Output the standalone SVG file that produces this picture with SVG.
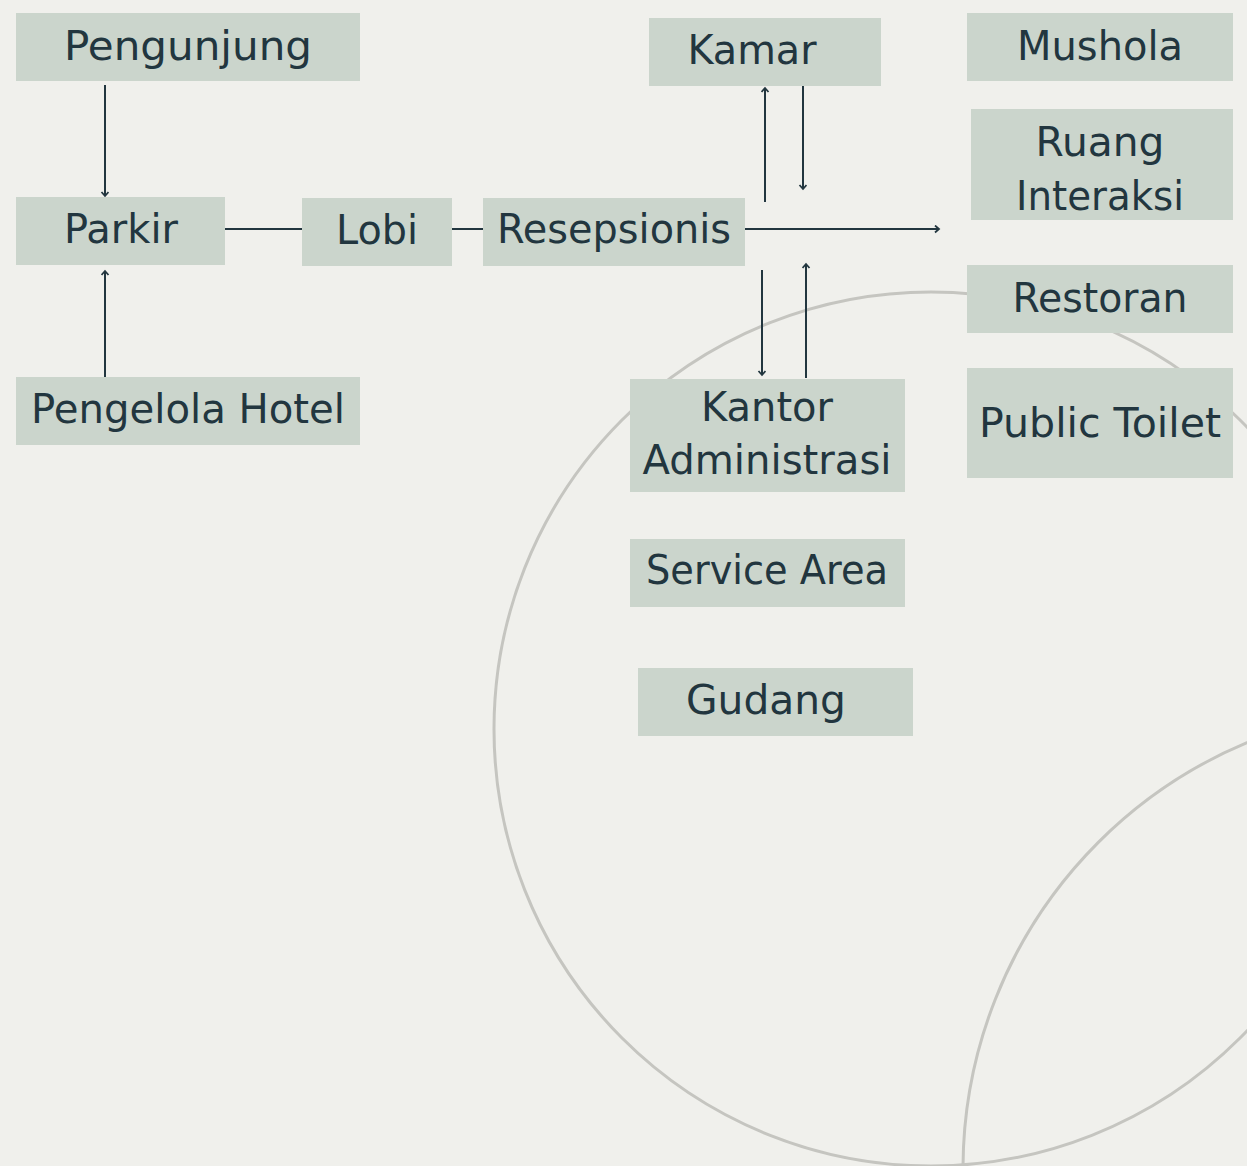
<svg xmlns="http://www.w3.org/2000/svg" width="1247" height="1166" viewBox="0 0 1247 1166">
<style>
.bg{fill:#f0f0ec}
.deco{fill:none;stroke:#c5c5c0;stroke-width:3}
.box{fill:#cbd5cc}
.lbl{font-family:"DejaVu Sans","Liberation Sans",sans-serif;font-size:41px;fill:#22363f;text-anchor:middle}
.edge{fill:none;stroke:#22363f;stroke-width:2}
</style>
<defs>
<marker id="ah" markerUnits="userSpaceOnUse" markerWidth="10" markerHeight="10" refX="5" refY="4" orient="auto">
<path d="M1,0.5 L5,4 L1,7.5" fill="none" stroke="#22363f" stroke-width="1.8"/>
</marker>
</defs>
<rect class="bg" x="0" y="0" width="1247" height="1166"/>
<g id="decor">
<circle class="deco" cx="931" cy="729" r="437"/>
<circle class="deco" cx="1425" cy="1169" r="462"/>
</g>
<g id="connectors">
<line class="edge" x1="105" y1="85" x2="105" y2="196" marker-end="url(#ah)"/>
<line class="edge" x1="105" y1="377" x2="105" y2="271" marker-end="url(#ah)"/>
<line class="edge" x1="225" y1="229" x2="302" y2="229"/>
<line class="edge" x1="452" y1="229" x2="483" y2="229"/>
<line class="edge" x1="745" y1="229" x2="939" y2="229" marker-end="url(#ah)"/>
<line class="edge" x1="765" y1="202" x2="765" y2="88" marker-end="url(#ah)"/>
<line class="edge" x1="803" y1="85" x2="803" y2="189" marker-end="url(#ah)"/>
<line class="edge" x1="762" y1="270" x2="762" y2="375" marker-end="url(#ah)"/>
<line class="edge" x1="806" y1="378" x2="806" y2="264" marker-end="url(#ah)"/>
</g>
<g id="pengunjung"><rect class="box" x="16" y="13" width="344" height="68"/><text class="lbl" x="188" y="60" textLength="248" lengthAdjust="spacingAndGlyphs">Pengunjung</text></g>
<g id="parkir"><rect class="box" x="16" y="197" width="209" height="68"/><text class="lbl" x="121" y="243" textLength="114" lengthAdjust="spacingAndGlyphs">Parkir</text></g>
<g id="lobi"><rect class="box" x="302" y="198" width="150" height="68"/><text class="lbl" x="377" y="244" textLength="82" lengthAdjust="spacingAndGlyphs">Lobi</text></g>
<g id="resepsionis"><rect class="box" x="483" y="198" width="262" height="68"/><text class="lbl" x="614" y="243" textLength="234" lengthAdjust="spacingAndGlyphs">Resepsionis</text></g>
<g id="kamar"><rect class="box" x="649" y="18" width="232" height="68"/><text class="lbl" x="752" y="64" textLength="129" lengthAdjust="spacingAndGlyphs">Kamar</text></g>
<g id="mushola"><rect class="box" x="967" y="13" width="266" height="68"/><text class="lbl" x="1100" y="60" textLength="166" lengthAdjust="spacingAndGlyphs">Mushola</text></g>
<g id="ruang-interaksi"><rect class="box" x="971" y="109" width="262" height="111"/><text class="lbl" x="1100" y="156" textLength="129" lengthAdjust="spacingAndGlyphs">Ruang</text><text class="lbl" x="1100" y="210" textLength="168" lengthAdjust="spacingAndGlyphs">Interaksi</text></g>
<g id="restoran"><rect class="box" x="967" y="265" width="266" height="68"/><text class="lbl" x="1100" y="312" textLength="175" lengthAdjust="spacingAndGlyphs">Restoran</text></g>
<g id="public-toilet"><rect class="box" x="967" y="368" width="266" height="110"/><text class="lbl" x="1100" y="437" textLength="242" lengthAdjust="spacingAndGlyphs">Public Toilet</text></g>
<g id="kantor-administrasi"><rect class="box" x="630" y="379" width="275" height="113"/><text class="lbl" x="767" y="421" textLength="132" lengthAdjust="spacingAndGlyphs">Kantor</text><text class="lbl" x="767" y="474" textLength="249" lengthAdjust="spacingAndGlyphs">Administrasi</text></g>
<g id="service-area"><rect class="box" x="630" y="539" width="275" height="68"/><text class="lbl" x="767" y="584" textLength="242" lengthAdjust="spacingAndGlyphs">Service Area</text></g>
<g id="gudang"><rect class="box" x="638" y="668" width="275" height="68"/><text class="lbl" x="766" y="714" textLength="160" lengthAdjust="spacingAndGlyphs">Gudang</text></g>
<g id="pengelola-hotel"><rect class="box" x="16" y="377" width="344" height="68"/><text class="lbl" x="188" y="423" textLength="314" lengthAdjust="spacingAndGlyphs">Pengelola Hotel</text></g>
</svg>
